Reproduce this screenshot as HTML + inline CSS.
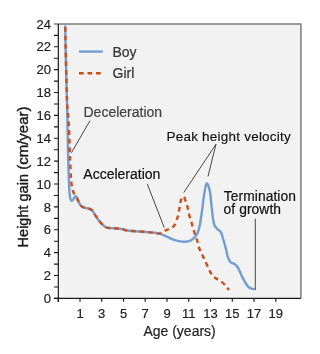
<!DOCTYPE html>
<html><head><meta charset="utf-8">
<style>
html,body{margin:0;padding:0;background:#fff;}
body{width:317px;height:354px;overflow:hidden;}
svg{display:block;will-change:transform;}
text{font-family:"Liberation Sans",sans-serif;}
</style></head>
<body>
<svg width="317" height="354" viewBox="0 0 317 354">
  <!-- plot background -->
  <rect x="58.3" y="24" width="242.5" height="274.4" fill="#f2f2f2"/>
  <!-- top & right border -->
  <path d="M54 23.9 H300.9 V298.4" fill="none" stroke="#7d7d7d" stroke-width="1.5"/>
  <!-- axes -->
  <path d="M58.3 23.9 V302 M54 298.4 H300.9" fill="none" stroke="#1a1a1a" stroke-width="1.2"/>
  <!-- y ticks -->
  <g stroke="#1a1a1a" stroke-width="1.1">
    <path id="yt" d="M54 298.40H58.3 M54 275.52H58.3 M54 252.65H58.3 M54 229.77H58.3 M54 206.90H58.3 M54 184.02H58.3 M54 161.15H58.3 M54 138.27H58.3 M54 115.40H58.3 M54 92.52H58.3 M54 69.65H58.3 M54 46.77H58.3"/>
    <path d="M54 286.96H58.3 M54 264.09H58.3 M54 241.21H58.3 M54 218.34H58.3 M54 195.46H58.3 M54 172.59H58.3 M54 149.71H58.3 M54 126.84H58.3 M54 103.96H58.3 M54 81.09H58.3 M54 58.21H58.3 M54 35.34H58.3"/>
  </g>
  <!-- x ticks -->
  <g stroke="#1e1e1e" stroke-width="1.2">
    <path d="M58.3 298.4V301.8 M80 298.4V301.8 M101.7 298.4V301.8 M123.5 298.4V301.8 M145.2 298.4V301.8 M167 298.4V301.8 M188.7 298.4V301.8 M210.5 298.4V301.8 M232.3 298.4V301.8 M254 298.4V301.8 M275.8 298.4V301.8"/>
  </g>
  <!-- y tick labels -->
  <g font-size="13" fill="#1e1e1e" stroke="#1e1e1e" stroke-width="0.2" text-anchor="end">
    <text x="51" y="303.00">0</text>
    <text x="51" y="280.12">2</text>
    <text x="51" y="257.25">4</text>
    <text x="51" y="234.37">6</text>
    <text x="51" y="211.50">8</text>
    <text x="51" y="188.62">10</text>
    <text x="51" y="165.75">12</text>
    <text x="51" y="142.87">14</text>
    <text x="51" y="120.00">16</text>
    <text x="51" y="97.12">18</text>
    <text x="51" y="74.25">20</text>
    <text x="51" y="51.37">22</text>
    <text x="51" y="28.50">24</text>
  </g>
  <!-- x tick labels -->
  <g font-size="13" fill="#1e1e1e" stroke="#1e1e1e" stroke-width="0.2" text-anchor="middle">
    <text x="80" y="318">1</text>
    <text x="101.7" y="318">3</text>
    <text x="123.5" y="318">5</text>
    <text x="145.2" y="318">7</text>
    <text x="167" y="318">9</text>
    <text x="188.7" y="318">11</text>
    <text x="210.5" y="318">13</text>
    <text x="232.3" y="318">15</text>
    <text x="254" y="318">17</text>
    <text x="275.8" y="318">19</text>
  </g>
  <!-- axis titles -->
  <text x="143.4" y="335.8" font-size="14" fill="#1e1e1e" stroke="#1e1e1e" stroke-width="0.2">Age (years)</text>
  <text transform="translate(27.7 247.4) rotate(-90)" font-size="14.5" fill="#1a1a1a" stroke="#1a1a1a" stroke-width="0.4">Height gain</text>
  <text transform="translate(27.7 169.8) rotate(-90)" font-size="15" fill="#1a1a1a" stroke="#1a1a1a" stroke-width="0.4">(cm/year)</text>

  <!-- legend -->
  <path d="M79 51.6H102.8" stroke="#739dd2" stroke-width="2.4"/>
  <path d="M79 73.3H101" stroke="#cc4f1a" stroke-width="2.4" stroke-dasharray="4.7 3.8"/>
  <text x="112.5" y="57.2" font-size="14" fill="#333" stroke="#333" stroke-width="0.2">Boy</text>
  <text x="112.5" y="78.4" font-size="14" fill="#333" stroke="#333" stroke-width="0.2">Girl</text>

  <!-- curves -->
  <path id="blue" d="M65.20 25.50 C65.43 37.00 65.61 47.44 65.90 60.00 C66.25 75.13 66.87 95.45 67.20 110.00 C67.46 121.27 67.58 130.00 67.80 140.00 C68.02 150.00 68.22 161.41 68.50 170.00 C68.71 176.47 68.90 182.08 69.20 187.00 C69.43 190.78 69.48 194.48 70.00 197.00 C70.33 198.59 70.64 200.58 71.30 200.80 C71.80 200.97 72.59 200.11 73.20 199.50 C74.03 198.67 74.82 196.03 75.60 196.00 C76.28 195.97 76.95 197.41 77.60 198.50 C78.58 200.15 79.05 203.61 80.40 205.20 C81.52 206.51 83.13 207.23 84.60 207.80 C86.00 208.34 87.72 208.14 89.00 208.60 C90.10 208.99 91.01 209.39 91.90 210.20 C93.03 211.22 93.91 213.10 94.90 214.60 C95.91 216.13 96.77 217.79 97.90 219.30 C99.06 220.86 100.44 222.45 101.80 223.80 C103.08 225.07 104.37 226.49 105.80 227.20 C107.06 227.83 108.37 227.91 109.80 228.10 C111.41 228.31 113.11 228.15 115.00 228.30 C117.30 228.48 120.43 228.75 122.60 229.20 C124.28 229.55 125.30 230.18 127.00 230.50 C129.25 230.93 132.30 231.00 135.00 231.20 C137.76 231.40 140.52 231.48 143.40 231.70 C146.47 231.94 150.03 232.25 152.90 232.60 C155.30 232.90 157.32 233.00 159.50 233.60 C161.79 234.23 164.09 235.44 166.30 236.40 C168.45 237.34 170.47 238.51 172.60 239.30 C174.67 240.07 176.78 240.70 178.90 241.10 C180.98 241.49 183.22 241.82 185.20 241.70 C187.00 241.59 188.77 241.30 190.30 240.60 C191.80 239.92 193.12 238.79 194.30 237.60 C195.53 236.37 196.66 234.98 197.50 233.30 C198.47 231.36 198.88 229.25 199.50 226.50 C200.43 222.41 201.22 216.33 202.00 211.00 C202.83 205.35 203.36 198.53 204.30 193.50 C205.03 189.62 205.81 183.38 206.80 183.30 C207.60 183.23 208.77 186.80 209.50 189.50 C210.74 194.06 210.95 202.48 211.80 208.60 C212.59 214.28 212.91 221.44 214.40 225.00 C215.24 227.00 216.39 227.99 217.50 229.20 C218.50 230.29 219.80 230.65 220.70 232.00 C222.01 233.96 222.71 237.61 223.60 240.50 C224.51 243.44 225.31 246.51 226.10 249.50 C226.88 252.44 227.30 255.95 228.30 258.30 C229.05 260.06 229.88 261.69 231.00 262.60 C231.92 263.35 233.19 263.16 234.20 263.80 C235.37 264.54 236.40 265.47 237.50 267.00 C239.33 269.55 241.08 275.02 243.00 278.50 C244.70 281.57 246.54 285.23 248.30 286.90 C249.37 287.92 250.41 288.34 251.50 288.70 C252.51 289.04 253.57 288.97 254.60 289.10" fill="none" stroke="#739dd2" stroke-width="2.4" stroke-linejoin="round"/>

  <path id="red" stroke-dashoffset="-1.5" d="M65.20 25.50 C65.43 37.00 65.57 47.44 65.90 60.00 C66.30 75.13 66.81 100.48 67.50 110.00 C67.78 113.82 68.14 114.67 68.40 118.00 C68.83 123.51 69.11 132.84 69.40 140.00 C69.67 146.82 69.82 153.51 70.10 160.00 C70.36 166.16 70.64 173.20 71.00 178.00 C71.24 181.20 71.35 183.49 71.80 186.00 C72.21 188.30 72.66 190.50 73.50 192.50 C74.31 194.42 75.63 195.86 76.70 197.80 C77.93 200.04 78.84 203.49 80.40 205.20 C81.61 206.52 83.13 207.23 84.60 207.80 C86.00 208.34 87.72 208.14 89.00 208.60 C90.10 208.99 91.01 209.39 91.90 210.20 C93.03 211.22 93.91 213.10 94.90 214.60 C95.91 216.13 96.77 217.79 97.90 219.30 C99.06 220.86 100.44 222.45 101.80 223.80 C103.08 225.07 104.37 226.49 105.80 227.20 C107.06 227.83 108.37 227.91 109.80 228.10 C111.41 228.31 113.11 228.15 115.00 228.30 C117.30 228.48 120.43 228.75 122.60 229.20 C124.28 229.55 125.30 230.18 127.00 230.50 C129.25 230.93 132.30 231.00 135.00 231.20 C137.76 231.40 140.52 231.48 143.40 231.70 C146.47 231.94 150.03 232.25 152.90 232.60 C155.30 232.90 157.59 233.95 159.50 233.60 C161.14 233.30 162.28 231.94 163.80 231.20 C165.43 230.40 167.33 229.85 169.00 229.00 C170.66 228.15 172.48 227.61 173.80 226.10 C175.50 224.15 176.57 220.38 177.50 217.50 C178.38 214.78 178.79 211.98 179.30 209.30 C179.78 206.75 179.91 203.85 180.50 201.80 C180.93 200.29 181.43 198.93 182.10 198.00 C182.59 197.31 183.31 196.38 183.80 196.50 C184.52 196.68 184.94 199.40 185.50 201.00 C186.14 202.80 186.81 204.67 187.40 206.80 C188.10 209.35 188.56 212.46 189.30 215.30 C190.06 218.20 191.07 221.16 191.90 224.00 C192.70 226.72 193.34 229.27 194.20 232.00 C195.12 234.92 196.42 238.12 197.30 241.00 C198.09 243.60 198.39 246.01 199.30 248.50 C200.26 251.14 201.80 253.81 203.00 256.40 C204.16 258.90 205.24 261.30 206.40 263.80 C207.60 266.39 208.87 269.45 210.10 271.70 C211.07 273.47 211.80 275.06 213.00 276.30 C214.13 277.46 215.71 278.19 217.00 279.00 C218.17 279.74 219.25 280.18 220.40 281.00 C221.74 281.96 223.16 283.13 224.50 284.50 C226.04 286.07 227.50 288.17 229.00 290.00" fill="none" stroke="#cc4f1a" stroke-width="2.4" stroke-dasharray="4.75 3.85"/>

  <!-- annotation pointer lines -->
  <g stroke="#333" stroke-width="0.9" fill="none">
    <path d="M90 120.7 L71.4 152.8"/>
    <path d="M147.2 183.8 L164.2 227.5"/>
    <path d="M216 144.2 L183.8 192.5 M216 144.2 L208 176.4"/>
    <path d="M255.3 218.8 V290.2"/>
  </g>

  <!-- annotation text -->
  <text x="83.5" y="117" font-size="14" fill="#3f3f3f" stroke="#3f3f3f" stroke-width="0.2">Deceleration</text>
  <text x="83.3" y="178.6" font-size="14" fill="#111" stroke="#111" stroke-width="0.2">Acceleration</text>
  <text x="166.5" y="140.6" font-size="13.5" letter-spacing="0.22" fill="#111" stroke="#111" stroke-width="0.15">Peak height velocity</text>
  <text x="223.8" y="200.9" font-size="13.8" letter-spacing="0.08" fill="#111" stroke="#111" stroke-width="0.2">Termination</text>
  <text x="223.6" y="213.6" font-size="13.8" letter-spacing="0.08" fill="#111" stroke="#111" stroke-width="0.2">of growth</text>
</svg>
</body></html>
